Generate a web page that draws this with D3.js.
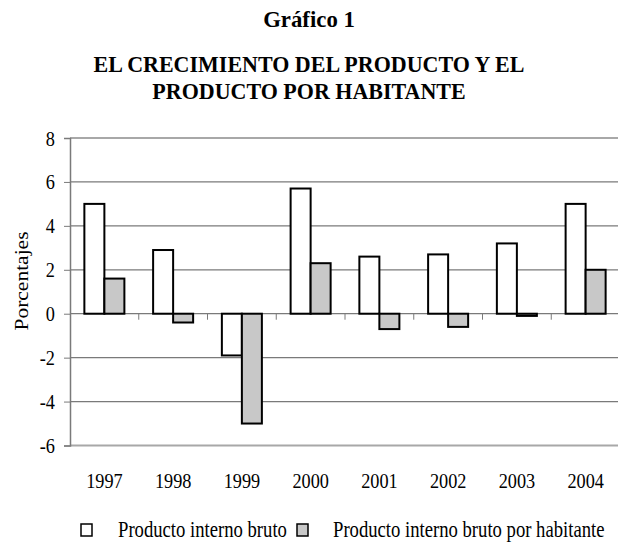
<!DOCTYPE html>
<html><head><meta charset="utf-8">
<script src="https://cdn.jsdelivr.net/npm/d3@7"></script>
<style>body{margin:0;background:#fff}svg{display:block}text{font-family:"Liberation Serif","Times New Roman",serif;fill:#000}</style>
</head><body><svg id="c" width="618" height="544"></svg>
<script>
const years = ["1997","1998","1999","2000","2001","2002","2003","2004"];
const pib = [5.0, 2.9, -1.9, 5.7, 2.6, 2.7, 3.2, 5.0];
const pibHab = [1.6, -0.4, -5.0, 2.3, -0.7, -0.6, -0.1, 2.0];
const yTicks = [-6, -4, -2, 0, 2, 4, 6, 8];
const seriesNames = ["Producto interno bruto", "Producto interno bruto por habitante"];
const seriesFill = ["#ffffff", "#c8c8c8"];

const svg = d3.select("#c");
const L = 70, R = 620, T = 138, B = 445.5;
const x = d3.scaleBand().domain(years).range([L, R]).paddingInner(0.418).paddingOuter(0.209);
const xs = d3.scaleBand().domain([0,1]).range([0, x.bandwidth()]);
const y = d3.scaleLinear().domain([-6, 8]).range([B, T]);

// condensed text helper (reference text is horizontally condensed)
function txt(px, py, s, size, sx, anchor, weight, rot) {
  const g = svg.append("g").attr("transform",
    rot ? `translate(${px},${py}) rotate(-90) scale(1,${sx})` : `translate(${px},${py}) scale(${sx},1)`);
  return g.append("text").attr("text-anchor", anchor || "start")
    .style("font-size", size + "px").style("font-weight", weight || "normal").text(s);
}

// gridlines
svg.append("g").selectAll("line").data(yTicks).join("line")
  .attr("x1", L).attr("x2", 618).attr("y1", d => y(d)).attr("y2", d => y(d))
  .attr("stroke", d => (d === 8 || d === -6) ? "#a8a8a8" : "#7a7a7a")
  .attr("stroke-width", d => (d === 8 || d === -6) ? 2 : 1.2);

// y axis (line + ticks), labels drawn condensed
const ya = svg.append("g").attr("transform", `translate(${L},0)`)
  .call(d3.axisLeft(y).tickValues(yTicks).tickSize(6).tickFormat(""));
ya.select(".domain").attr("stroke", "#7a7a7a").attr("stroke-width", 1.5);
ya.selectAll(".tick line").attr("stroke", "#7a7a7a");
yTicks.forEach(t => txt(55, y(t) + 7.5, String(t), 22, 0.83, "end"));

// bars
const data = years.map((yr, i) => ({yr, v: [pib[i], pibHab[i]]}));
const grp = svg.append("g").selectAll("g").data(data).join("g")
  .attr("transform", d => `translate(${x(d.yr)},0)`);
grp.selectAll("rect").data(d => d.v.map((v, k) => ({v, k}))).join("rect")
  .attr("x", d => xs(d.k)).attr("width", xs.bandwidth())
  .attr("y", d => y(Math.max(0, d.v))).attr("height", d => Math.max(1, Math.abs(y(d.v) - y(0))))
  .attr("fill", d => seriesFill[d.k]).attr("stroke", "#000").attr("stroke-width", 2);

// category ticks on zero line
const step = x.step();
svg.append("g").selectAll("line").data(years.slice(1)).join("line")
  .attr("x1", d => x(d) - x.paddingInner()*step/2).attr("x2", d => x(d) - x.paddingInner()*step/2)
  .attr("y1", y(0)).attr("y2", y(0) + 6).attr("stroke", "#7a7a7a").attr("stroke-width", 1);

// x labels
years.forEach(yr => txt(x(yr) + x.bandwidth()/2, 488, yr, 22, 0.83, "middle"));

// y title
txt(28, 281, "Porcentajes", 21.5, 0.85, "middle", "normal", true);

// titles
txt(309, 27, "Gráfico 1", 24, 0.95, "middle", "bold");
txt(309, 72, "EL CRECIMIENTO DEL PRODUCTO Y EL", 23, 0.957, "middle", "bold");
txt(309, 98.5, "PRODUCTO POR HABITANTE", 23, 0.957, "middle", "bold");

// legend
const legX = [81, 297], legTX = [118, 333];
seriesNames.forEach((n, i) => {
  svg.append("rect").attr("x", legX[i]).attr("y", 524).attr("width", 11).attr("height", 12)
    .attr("fill", seriesFill[i]).attr("stroke", "#000").attr("stroke-width", 1.5);
  txt(legTX[i], 537, n, 22.5, 0.83, "start");
});
</script></body></html>
